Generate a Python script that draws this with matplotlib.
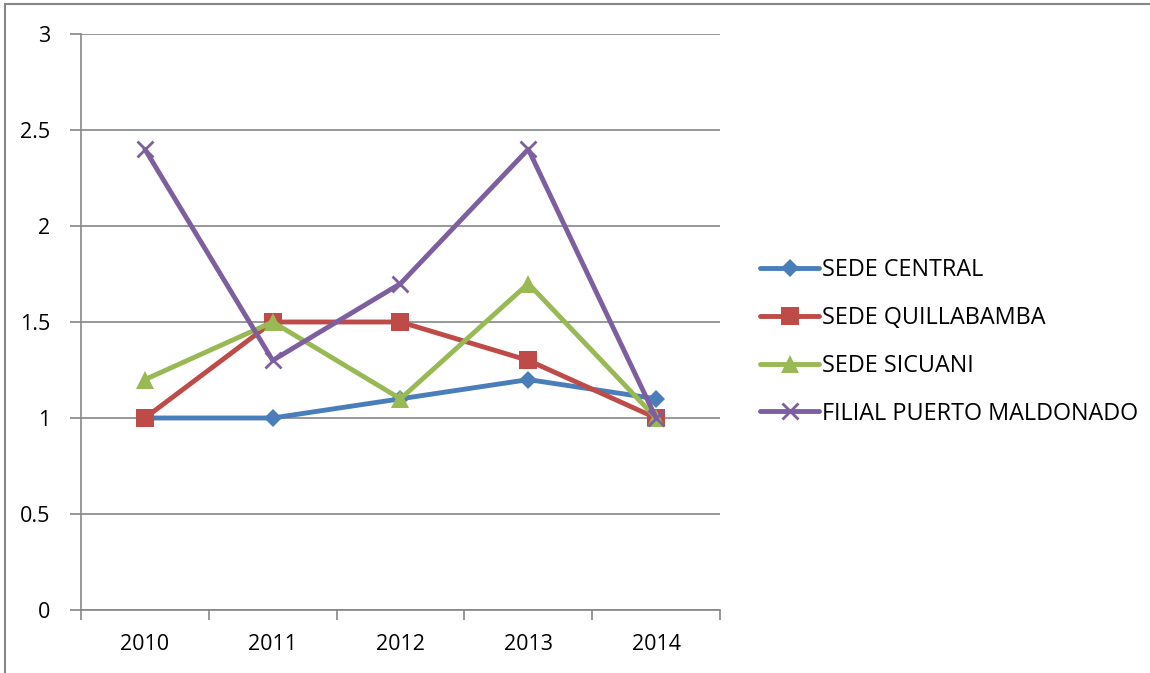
import matplotlib.pyplot as plt
from matplotlib.lines import Line2D

years = ["2010", "2011", "2012", "2013", "2014"]
sede_central = [1.0, 1.0, 1.1, 1.2, 1.1]
sede_quillabamba = [1.0, 1.5, 1.5, 1.3, 1.0]
sede_sicuani = [1.2, 1.5, 1.1, 1.7, 1.0]
filial_puerto = [2.4, 1.3, 1.7, 2.4, 1.0]

names = ["SEDE CENTRAL", "SEDE QUILLABAMBA", "SEDE SICUANI", "FILIAL PUERTO MALDONADO"]
series = [sede_central, sede_quillabamba, sede_sicuani, filial_puerto]
clrs = ["#4a7ebb", "#be4b48", "#98b954", "#7d5fa0"]
mrks = ["D", "s", "^", "x"]
msizes = [9, 13, 13, 12]

plt.rcParams['font.family'] = ['Open Sans', 'DejaVu Sans']

fig = plt.figure(figsize=(11.5, 6.73), dpi=100)
ax = fig.add_axes([0.0704, 0.0936, 0.5557, 0.8559])

x = list(range(len(years)))
for vals, nm, c, m, ms in zip(series, names, clrs, mrks, msizes):
    ax.plot(x, vals, color=c, lw=3.5, marker=m, ms=ms, mew=2 if m == "x" else 0,
            mec=c, mfc=c, label=nm, solid_capstyle='round', clip_on=False)

ax.set_xlim(-0.5, 4.5)
ax.set_ylim(0, 3)
ax.set_yticks([0, 0.5, 1, 1.5, 2, 2.5, 3])
ax.set_yticklabels(["0", "0.5", "1", "1.5", "2", "2.5", "3"])
ax.set_xticks(x)
ax.set_xticklabels(years)
ax.set_xticks([-0.5, 0.5, 1.5, 2.5, 3.5, 4.5], minor=True)
ax.tick_params(axis='x', which='major', length=0, pad=17, labelsize=15.5)
ax.tick_params(axis='x', which='minor', length=7, color='#868686', width=1.2)
ax.tick_params(axis='y', length=8, color='#868686', width=1.2, pad=14, labelsize=15.5)
ax.grid(axis='y', color='#868686', lw=1.2)
ax.set_axisbelow(True)
for s in ['top', 'right']:
    ax.spines[s].set_visible(False)
ax.spines['left'].set_color('#868686')
ax.spines['bottom'].set_color('#868686')
ax.spines['left'].set_linewidth(1.2)
ax.spines['bottom'].set_linewidth(1.2)

fig.legend(loc='center left', bbox_to_anchor=(0.643, 0.492), frameon=False,
           fontsize=16.8, handlelength=2.5, handletextpad=0.12, labelspacing=1.02)

# outer frame lines (top and left)
fig.add_artist(Line2D([0.0045, 1.0], [0.994, 0.994], color='#868686', lw=1.5, transform=fig.transFigure))
fig.add_artist(Line2D([0.0045, 0.0045], [0.0, 0.994], color='#868686', lw=1.5, transform=fig.transFigure))

plt.savefig("out.png", dpi=100)
